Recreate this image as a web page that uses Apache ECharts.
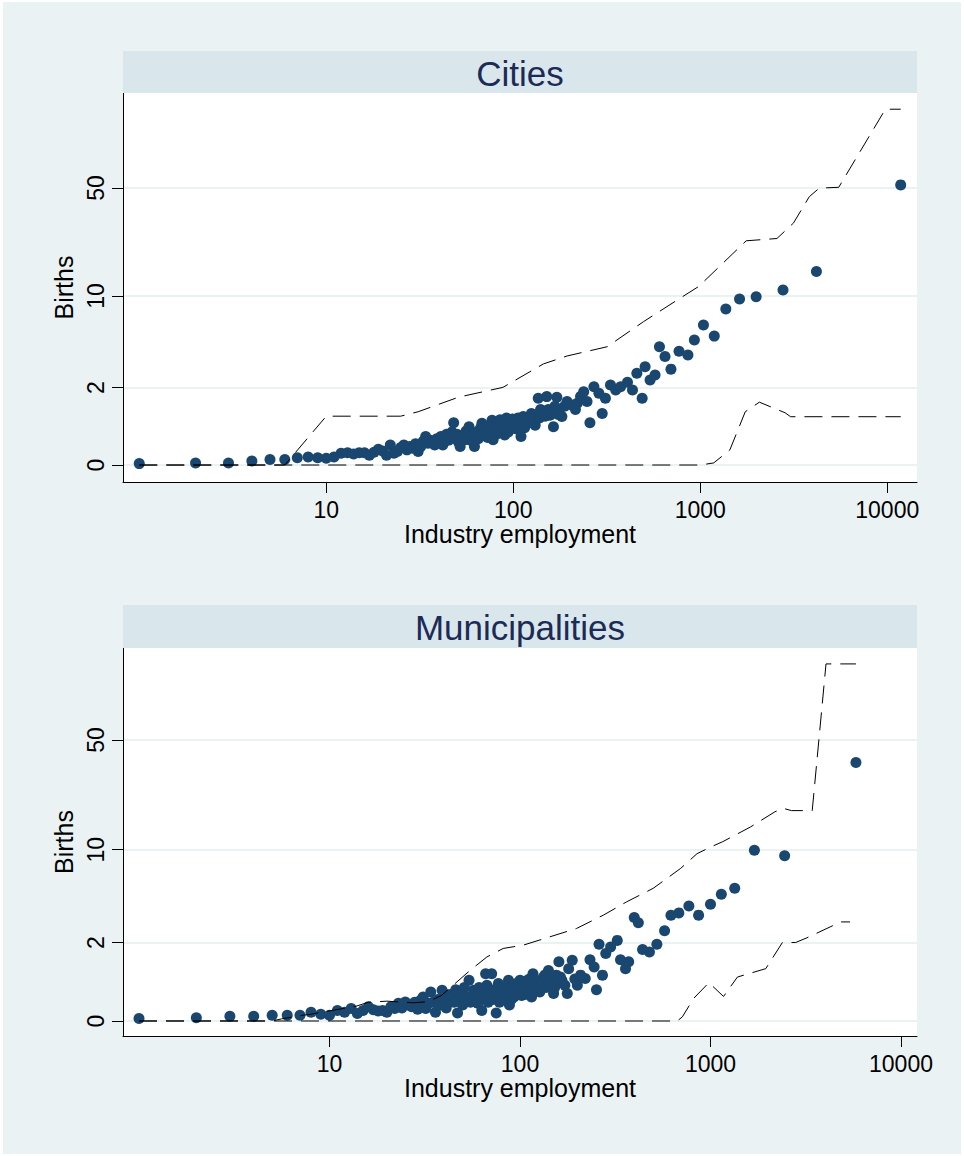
<!DOCTYPE html>
<html>
<head>
<meta charset="utf-8">
<script src="https://cdn.jsdelivr.net/npm/echarts@6/dist/echarts.min.js"></script>
<style>
html,body{margin:0;padding:0;background:#fff;width:964px;height:1156px;overflow:hidden;}
#chart{position:absolute;left:3px;top:2px;width:958px;height:1152px;}
</style>
</head>
<body>
<div id="chart"></div>
<script>
// ---------------- DATA ----------------
const panelTitles = ['Cities', 'Municipalities'];
const xTickLabels = [10, 100, 1000, 10000];
const yTickLabels = [0, 2, 10, 50];
const xAxisTitle = 'Industry employment';
const yAxisTitle = 'Births';

// Cities: mean births by industry employment
const cityEmployment = [1,2,3,4,5,6,7,8,9,10,11,12,13,14,15,16,17,18,19,20,21,22,23,24,25,26,27,28,29,30,31,32,33,34,35,36,37,38,39,40,41,42,43,44,45,46,47,48,49,50,51,52,53,55,56,58,60,62,64,66,68,70,72,74,77,78,80,83,86,90,92,95,98,101,104,107,110,113,116,120,125,128,131,136,140,145,151,157,164,171,176,182,188,194,206,215,220,229,238,248,257,270,287,299,311,331,353,375,408,434,458,489,507,539,573,605,648,697,770,859,930,1040,1188,1370,1622,1990,2770,4180,11800,
  54,57,59,61,63,65,67,69,71,73,75,76,79,81,82,84,85,87,88,89,91,93,94,96,97,99,100,102,103,105,106,108,109,111,112,114,115,118,122,124,127,133,138,143,148,154,160,167,174];
const cityBirths = [0.02,0.03,0.03,0.06,0.08,0.08,0.11,0.12,0.11,0.10,0.12,0.18,0.19,0.17,0.19,0.19,0.15,0.20,0.25,0.22,0.15,0.33,0.18,0.21,0.28,0.33,0.24,0.30,0.27,0.35,0.21,0.30,0.40,0.50,0.36,0.42,0.39,0.33,0.45,0.38,0.50,0.33,0.46,0.55,0.42,0.50,0.60,0.82,0.45,0.55,0.38,0.30,0.52,0.43,0.62,0.72,0.50,0.30,0.60,0.64,0.81,0.58,0.50,0.70,0.89,0.43,0.65,0.85,0.70,0.53,0.95,0.75,0.72,0.80,0.85,0.65,0.50,0.99,0.80,0.85,1.08,0.90,0.76,1.58,1.20,1.08,1.64,1.03,0.72,1.62,1.20,0.99,1.30,1.46,1.34,1.20,1.40,1.64,1.83,1.46,0.82,2.04,1.77,1.08,1.58,2.11,1.90,2.04,2.24,1.90,2.68,1.58,3.04,2.34,2.59,4.36,3.66,2.90,4.03,3.77,4.90,6.30,5.23,8.16,9.55,9.90,11.0,14.6,52.3,
  0.48,0.55,0.42,0.58,0.50,0.45,0.70,0.55,0.62,0.48,0.60,0.75,0.68,0.55,0.78,0.62,0.90,0.80,0.60,0.72,0.68,0.82,0.60,0.88,0.70,0.92,0.78,0.68,0.90,0.75,0.95,0.82,0.70,0.90,0.78,0.92,0.70,0.95,0.82,1.00,0.92,1.05,0.95,1.15,1.00,1.20,1.10,1.30,1.05];
const cityUpperEmployment = [1,6,10,25,31,51,88,145,194,318,497,778,980,1760,2570,3150,3830,4330,5500,9770,11800];
const cityUpperBirths = [0,0,1,1,1.13,1.62,2.01,3.2,3.7,4.36,6.65,9.65,11.6,23.1,23.9,30.0,44.1,49.9,50.5,155,155];
const cityLowerEmployment = [1,1000,1180,1440,1740,2070,2840,3040,11800];
const cityLowerBirths = [0,0,0.03,0.24,1.13,1.44,1.10,0.985,0.985];

// Municipalities
const muniEmployment = [1,2,3,4,5,6,7,8,9,10,11,12,13,14,15,16,17,18,19,20,21,22,23,24,25,26,27,28,29,30,31,32,33,34,35,36,37,38,39,40,41,42,43,44,45,46,47,48,49,50,51,52,54,55,57,58,59,61,63,64,66,67,69,71,73,75,77,79,82,84,87,88,91,94,97,100,102,105,109,112,115,117,121,125,129,133,137,141,147,150,155,160,166,172,177,180,188,194,200,208,220,233,245,252,260,271,282,299,324,337,358,372,398,418,440,478,523,574,620,682,770,866,1000,1140,1340,1700,2450,5800,
  53,56,60,62,65,68,70,72,74,76,78,80,81,83,85,86,89,90,92,93,95,96,98,99,101,103,104,106,107,108,110,111,113,114,118,119,123,127,131,135,139,144,152,158,163];
const muniBirths = [0.034,0.048,0.068,0.068,0.083,0.083,0.083,0.13,0.098,0.083,0.16,0.13,0.19,0.11,0.16,0.22,0.17,0.15,0.16,0.13,0.22,0.19,0.28,0.20,0.305,0.25,0.22,0.30,0.18,0.33,0.40,0.19,0.28,0.50,0.30,0.13,0.35,0.25,0.54,0.38,0.20,0.305,0.45,0.40,0.30,0.55,0.12,0.47,0.35,0.25,0.60,0.40,0.77,0.30,0.54,0.45,0.34,0.60,0.16,0.50,0.94,0.65,0.40,0.94,0.55,0.12,0.69,0.45,0.54,0.62,0.77,0.25,0.60,0.47,0.70,0.77,0.43,0.55,0.65,0.80,0.40,0.94,0.70,0.61,0.75,0.85,0.60,1.03,0.77,0.47,0.90,1.29,0.77,0.65,0.47,1.08,1.34,0.80,0.65,0.90,0.81,1.36,1.13,0.55,1.93,0.90,1.57,1.82,2.09,1.36,1.08,1.29,3.26,2.95,1.72,1.63,1.93,2.54,3.39,3.54,4.0,3.4,4.12,4.9,5.4,9.9,9.1,36.2,
  0.35,0.42,0.28,0.50,0.38,0.30,0.50,0.35,0.45,0.55,0.30,0.60,0.40,0.35,0.50,0.45,0.55,0.35,0.65,0.40,0.50,0.60,0.45,0.55,0.60,0.70,0.50,0.45,0.75,0.55,0.60,0.48,0.65,0.72,0.55,0.80,0.62,0.50,0.72,0.90,0.68,0.80,0.60,0.70,0.85];
const muniUpperEmployment = [1,5,5.6,7.1,8,13.8,16,20,27.5,33,38.7,54.7,67,81.6,104,198,274,363,500,696,850,1000,1160,1620,2180,2410,2660,3420,4040,5800];
const muniUpperBirths = [0,0,0.03,0.08,0.1,0.23,0.3,0.32,0.29,0.31,0.43,1.03,1.45,1.76,1.89,2.65,3.4,4.3,5.4,7.45,9.4,10.4,11.3,14.1,17.7,18.6,18.0,18.0,147,147];
const muniLowerEmployment = [1,669,712,815,981,1170,1385,1950,2385,2800,3200,4830,5400];
const muniLowerBirths = [0,0,0.06,0.37,0.71,0.41,0.85,1.08,2.0,2.0,2.2,3.0,3.0];

// ---------------- SCALES ----------------
const tx = v => Math.log10(v);          // log10 x-scale
const ty = v => Math.log(1 + v);        // log(1+y) y-scale
const pairs = (xs, ys) => xs.map((x, i) => [tx(x), ty(ys[i])]);

const FONT = 'Liberation Sans, Arial, sans-serif';
const BG = '#EAF2F3';
const BAR = '#D9E6EB';
const MARK = '#1A476F';

const panels = [
  {title: panelTitles[0], top: 91, height: 389, barTop: 49, barH: 42, xmin: -0.087, xmax: 4.159, ymin: -0.241, ymax: 5.280,
   pts: pairs(cityEmployment, cityBirths), up: pairs(cityUpperEmployment, cityUpperBirths), lo: pairs(cityLowerEmployment, cityLowerBirths)},
  {title: panelTitles[1], top: 646, height: 388, barTop: 603, barH: 43, xmin: -0.084, xmax: 4.084, ymin: -0.21, ymax: 5.22,
   pts: pairs(muniEmployment, muniBirths), up: pairs(muniUpperEmployment, muniUpperBirths), lo: pairs(muniLowerEmployment, muniLowerBirths)}
];
const GL = 120, GW = 794;

const grids = [], xAxes = [], yAxes = [], series = [], graphics = [];
panels.forEach((p, i) => {
  grids.push({left: GL, top: p.top, width: GW, height: p.height, show: true, backgroundColor: '#fff', borderWidth: 0});
  xAxes.push({
    type: 'value', gridIndex: i, min: p.xmin, max: p.xmax,
    name: xAxisTitle, nameLocation: 'middle', nameGap: 39,
    nameTextStyle: {fontFamily: FONT, fontSize: 25, color: '#000'},
    axisLine: {onZero: false, lineStyle: {color: '#000', width: 1}},
    axisTick: {show: true, length: 11, customValues: xTickLabels.map(tx), lineStyle: {color: '#000', width: 1}},
    axisLabel: {customValues: xTickLabels.map(tx), margin: 16, fontFamily: FONT, fontSize: 23, color: '#000',
      formatter: v => String(Math.round(Math.pow(10, v)))},
    splitLine: {show: false}
  });
  yAxes.push({
    type: 'value', gridIndex: i, min: p.ymin, max: p.ymax,
    name: yAxisTitle, nameLocation: 'middle', nameGap: 45, nameRotate: 90,
    nameTextStyle: {fontFamily: FONT, fontSize: 25, color: '#000'},
    axisLine: {show: true, onZero: false, lineStyle: {color: '#000', width: 1}},
    axisTick: {show: true, length: 11, customValues: yTickLabels.map(ty), lineStyle: {color: '#000', width: 1}},
    axisLabel: {customValues: yTickLabels.map(ty), rotate: 90, margin: 16, fontFamily: FONT, fontSize: 23, color: '#000',
      formatter: v => String(Math.round(Math.exp(v) - 1))},
    splitLine: {show: true, lineStyle: {color: BG, width: 2}}
  });
  series.push({type: 'scatter', xAxisIndex: i, yAxisIndex: i, data: p.pts, symbol: 'circle', symbolSize: 11,
    itemStyle: {color: MARK, opacity: 1}, z: 3});
  const dash = {color: '#000', width: 1, type: [18, 9]};
  series.push({type: 'line', xAxisIndex: i, yAxisIndex: i, data: p.up, symbol: 'none', lineStyle: dash, z: 5});
  series.push({type: 'line', xAxisIndex: i, yAxisIndex: i, data: p.lo, symbol: 'none', lineStyle: dash, z: 5});
  graphics.push({type: 'rect', shape: {x: GL, y: p.barTop, width: GW, height: p.barH}, style: {fill: BAR}, z: 1});
  graphics.push({type: 'text', x: GL + GW / 2, y: p.barTop + p.barH / 2 + 1,
    style: {text: p.title, fill: '#1c2b56', font: '35px ' + FONT, textAlign: 'center', textVerticalAlign: 'middle'}, z: 2});
});

const chart = echarts.init(document.getElementById('chart'), null, {renderer: 'svg'});
chart.setOption({
  animation: false,
  backgroundColor: BG,
  grid: grids, xAxis: xAxes, yAxis: yAxes, series: series, graphic: graphics
});
</script>
</body>
</html>
